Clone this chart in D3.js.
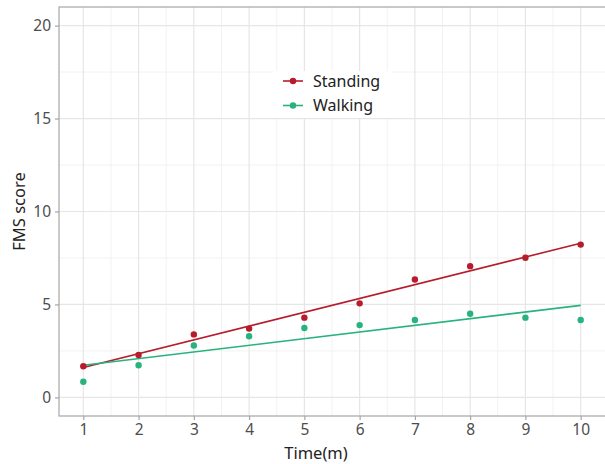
<!DOCTYPE html>
<html>
<head>
<meta charset="utf-8">
<script src="https://cdn.jsdelivr.net/npm/d3@7"></script>
<style>
    body { margin: 0; background: #fff; }
    svg { display: block; font-family: "Noto Sans", sans-serif; }
</style>
</head>
<body>
<div id="chart"></div>
<script>
    // data
    const times = [1, 2, 3, 4, 5, 6, 7, 8, 9, 10];
    const standing = [1.68, 2.28, 3.39, 3.70, 4.29, 5.06, 6.34, 7.06, 7.51, 8.22];
    const walking = [0.84, 1.73, 2.79, 3.29, 3.73, 3.89, 4.16, 4.50, 4.29, 4.16];
    const seriesNames = ["Standing", "Walking"];
    const seriesColors = ["#b71c2c", "#27b37e"];
    const xTicks = [1, 2, 3, 4, 5, 6, 7, 8, 9, 10];
    const yTicks = [0, 5, 10, 15, 20];

    const W = 605, H = 464;
    const margin = { top: 7, right: 0, bottom: 48, left: 59 };
    const width = W - margin.left - margin.right;
    const height = H - margin.top - margin.bottom;

    const svg = d3.select("#chart")
        .append("svg")
        .attr("width", W)
        .attr("height", H);

    const g = svg.append("g")
        .attr("transform", `translate(${margin.left},${margin.top})`);

    const x = d3.scaleLinear().domain([0.56, 10.44]).range([0, width]);
    const y = d3.scaleLinear().domain([-1, 21]).range([height, 0]);

    // minor grid
    const xMinor = d3.range(1.5, 10.5, 1);
    const yMinor = [2.5, 7.5, 12.5, 17.5];
    g.selectAll(".xminor").data(xMinor).enter().append("line")
        .attr("x1", d => x(d)).attr("x2", d => x(d))
        .attr("y1", 0).attr("y2", height)
        .attr("stroke", "#f2f2f2").attr("stroke-width", 1);
    g.selectAll(".yminor").data(yMinor).enter().append("line")
        .attr("x1", 0).attr("x2", width)
        .attr("y1", d => y(d)).attr("y2", d => y(d))
        .attr("stroke", "#f2f2f2").attr("stroke-width", 1);
    // major grid
    g.selectAll(".xmajor").data(xTicks).enter().append("line")
        .attr("x1", d => x(d)).attr("x2", d => x(d))
        .attr("y1", 0).attr("y2", height)
        .attr("stroke", "#e6e6e6").attr("stroke-width", 1.2);
    g.selectAll(".ymajor").data(yTicks).enter().append("line")
        .attr("x1", 0).attr("x2", width)
        .attr("y1", d => y(d)).attr("y2", d => y(d))
        .attr("stroke", "#e6e6e6").attr("stroke-width", 1.2);

    // least squares fit per series, like geom_smooth(method = "lm")
    function fit(xs, ys) {
        const mx = d3.mean(xs), my = d3.mean(ys);
        let sxy = 0, sxx = 0;
        xs.forEach((v, i) => { sxy += (v - mx) * (ys[i] - my); sxx += (v - mx) * (v - mx); });
        const b = sxy / sxx;
        const a = my - b * mx;
        const ext = d3.extent(xs);
        return ext.map(v => [v, a + b * v]);
    }

    const series = [standing, walking];
    const line = d3.line().x(d => x(d[0])).y(d => y(d[1]));

    series.forEach((vals, i) => {
        g.append("path")
            .datum(fit(times, vals))
            .attr("d", line)
            .attr("fill", "none")
            .attr("stroke", seriesColors[i])
            .attr("stroke-width", 1.6);
    });
    series.forEach((vals, i) => {
        g.selectAll(".pt" + i)
            .data(vals)
            .enter().append("circle")
            .attr("cx", (d, j) => x(times[j]))
            .attr("cy", d => y(d))
            .attr("r", 3.2)
            .attr("fill", seriesColors[i]);
    });

    // panel border
    g.append("rect")
        .attr("x", 0).attr("y", 0)
        .attr("width", width + 2).attr("height", height)
        .attr("fill", "none")
        .attr("stroke", "#a6a6a6")
        .attr("stroke-width", 1.2);

    // axes
    const xAxis = g.append("g")
        .attr("transform", `translate(0,${height})`)
        .call(d3.axisBottom(x).tickValues(xTicks).tickSize(4).tickPadding(4));
    const yAxis = g.append("g")
        .call(d3.axisLeft(y).tickValues(yTicks).tickSize(4).tickPadding(4));
    [xAxis, yAxis].forEach(a => {
        a.select(".domain").remove();
        a.selectAll(".tick line").attr("stroke", "#a6a6a6").attr("stroke-width", 1.2);
        a.selectAll(".tick text")
            .attr("fill", "#4d4d4d")
            .style("font-size", "15.5px")
            .style("font-family", "'Noto Sans', sans-serif");
    });

    // axis titles
    svg.append("text")
        .attr("x", 316)
        .attr("y", 459)
        .attr("text-anchor", "middle")
        .attr("fill", "#222")
        .style("font-size", "16.5px")
        .text("Time(m)");
    svg.append("text")
        .attr("transform", `translate(25,${margin.top + height / 2}) rotate(-90)`)
        .attr("text-anchor", "middle")
        .attr("fill", "#222")
        .style("font-size", "16.5px")
        .text("FMS score");

    // legend
    const legend = svg.append("g").attr("transform", "translate(273,71)");
    legend.append("rect")
        .attr("width", 119).attr("height", 47)
        .attr("fill", "#fff");
    seriesNames.forEach((name, i) => {
        const row = legend.append("g").attr("transform", `translate(0,${10 + i * 24.5})`);
        row.append("line")
            .attr("x1", 10).attr("x2", 30)
            .attr("stroke", seriesColors[i]).attr("stroke-width", 1.6);
        row.append("circle")
            .attr("cx", 20).attr("r", 3.2)
            .attr("fill", seriesColors[i]);
        row.append("text")
            .attr("x", 40).attr("y", 5.5)
            .attr("fill", "#222")
            .style("font-size", "16px")
            .text(name);
    });
</script>
</body>
</html>
